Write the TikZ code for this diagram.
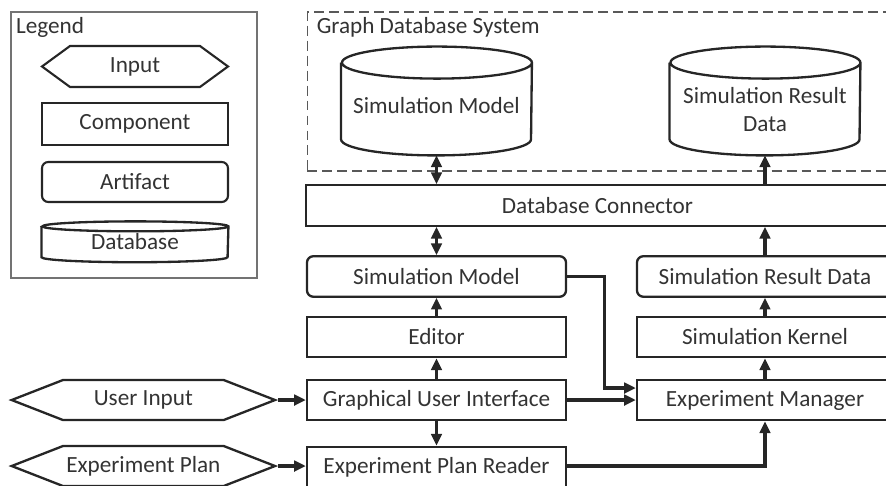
\documentclass[tikz,border=0pt]{standalone}
\usepackage{fontspec}
\setmainfont{Carlito}
\usetikzlibrary{arrows.meta,shapes.symbols}
\newcommand{\drawcyl}[3]{%
  \draw[dbline] ([yshift=-#3]#1.north west) -- ([yshift=#3]#1.south west)
    arc[start angle=180, end angle=360, x radius=#2, y radius=#3]
    -- ([yshift=-#3]#1.north east)
    arc[start angle=0, end angle=180, x radius=#2, y radius=#3]
    arc[start angle=180, end angle=360, x radius=#2, y radius=#3];}

\begin{document}
\begin{tikzpicture}[
  font=\fontsize{11pt}{13.5pt}\selectfont,
  every node/.style={text=black!80},
  compbox/.style={draw=black!85, line width=1.1pt, minimum width=4.317cm,
                  minimum height=0.675cm, inner sep=2pt, align=center},
  artbox/.style={compbox, rounded corners=3pt},
  inbox/.style={shape=signal, signal to=west and east, signal pointer angle=42.6,
                draw=black!85, line width=1.1pt, minimum width=4.389cm,
                minimum height=0.667cm, inner sep=1pt},
  dbbox/.style={minimum width=3.167cm, minimum height=1.8cm, inner sep=0pt},
  dbline/.style={draw=black!85, line width=1.1pt},
  legbox/.style={draw=black!85, line width=1pt, minimum width=3.1cm,
                 minimum height=0.683cm, inner sep=1pt},
  frame/.style={draw=black!55, line width=0.6pt},
  grpframe/.style={draw=black!65, line width=0.6pt, dash pattern=on 4.7pt off 2.4pt},
  arr/.style={-{Triangle[length=5.5pt,width=5pt]}, line width=1.5pt, draw=black!85},
  dblarr/.style={{Triangle[length=5.5pt,width=5pt]}-{Triangle[length=5.5pt,width=5pt]},
                 line width=1.5pt, draw=black!85}
]
\useasboundingbox (0,0) rectangle (14.767,-8.1);

\node[frame, minimum width=4.1cm, minimum height=4.433cm] (legend) at (2.233,-2.417) {};
\node[anchor=north west, inner sep=2.5pt] (legendlbl) at (legend.north west) {Legend};
\node[legbox, shape=signal, signal to=west and east, signal pointer angle=72.4]
      (lgin) at (2.25,-1.108) {Input};
\node[legbox, minimum height=0.7cm] (lgcomp) at (2.25,-2.067) {Component};
\node[legbox, rounded corners=3pt, minimum height=0.667cm] (lgart) at (2.25,-3.033) {Artifact};
\node[minimum width=3.1cm, minimum height=0.667cm, inner sep=1pt]
      (lgdb) at (2.25,-4.03) {Database};
\drawcyl{lgdb}{1.55cm}{0.083cm}

\node[grpframe, minimum width=9.79cm, minimum height=2.65cm] (gdbs) at (10.02,-1.525) {};
\node[anchor=north west, inner sep=2.5pt] (gdbslbl) at ([xshift=2pt]gdbs.north west)
      {Graph Database System};
\node[dbbox] (dbmodel) at (7.275,-1.683) {};
\node[dbbox] (dbresult) at (12.75,-1.683) {};
\drawcyl{dbmodel}{1.583cm}{0.267cm}
\drawcyl{dbresult}{1.583cm}{0.267cm}
\node (dbmodeltxt) at ([yshift=-0.07cm]dbmodel.center) {Simulation Model};
\node[align=center] (dbresulttxt) at ([yshift=-0.14cm]dbresult.center)
      {Simulation Result\\Data};

\node[compbox, minimum width=9.717cm] (conn) at (9.958,-3.425) {Database Connector};

\node[artbox] (simmod) at (7.275,-4.608) {Simulation Model};
\node[compbox] (editor) at (7.275,-5.617) {Editor};
\node[compbox] (gui) at (7.275,-6.667) {Graphical User Interface};
\node[compbox] (epr) at (7.275,-7.783) {Experiment Plan Reader};

\node[artbox, minimum width=4.267cm] (simres) at (12.75,-4.608) {Simulation Result Data};
\node[compbox, minimum width=4.267cm] (kernel) at (12.75,-5.617) {Simulation Kernel};
\node[compbox, minimum width=4.267cm] (mgr) at (12.75,-6.667) {Experiment Manager};

\node[inbox] (usrin) at (2.389,-6.667) {User Input};
\node[inbox] (plan) at (2.389,-7.767) {Experiment Plan};

\draw[dblarr] (dbmodel.south) -- (dbmodel.south |- conn.north);
\draw[dblarr] (simmod.north |- conn.south) -- (simmod.north);
\draw[arr] (editor) -- (simmod);
\draw[arr] (gui) -- (editor);
\draw[arr] (gui) -- (epr);
\draw[arr] (usrin.east) -- (gui.west);
\draw[arr] (plan.east) -- (plan.east -| epr.west);
\draw[arr] (simmod.east) -- ++(0.617,0) |- ([yshift=0.2cm]mgr.west);
\draw[arr] (gui.east) -- (mgr.west);
\draw[arr] (plan.east -| epr.east) -| (mgr.south);
\draw[arr] (mgr) -- (kernel);
\draw[arr] (kernel) -- (simres);
\draw[arr] (simres.north) -- (simres.north |- conn.south);
\draw[arr] (dbresult.south |- conn.north) -- (dbresult.south);
\end{tikzpicture}
\end{document}
